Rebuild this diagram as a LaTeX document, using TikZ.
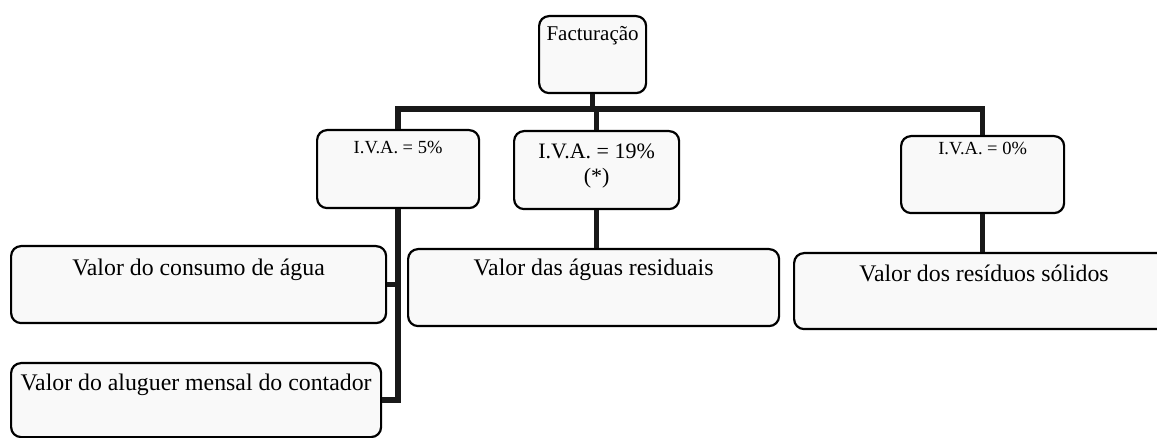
\documentclass[tikz,border=0pt]{standalone}
\usepackage{fontspec}
\setmainfont{Liberation Serif}
\usetikzlibrary{calc}
\begin{document}
\begin{tikzpicture}[x=1pt,y=-1pt,
  box/.style={draw=black, line width=2.2pt, rounded corners=10pt, fill=gray!5, inner sep=0pt, anchor=north west},
  txt/.style={inner sep=0pt, anchor=mid, text=black},
  conn/.style={line width=5.5pt, draw=black!90, line join=miter},
  big/.style={font=\fontsize{23.8}{27}\selectfont},
  mid/.style={font=\fontsize{21}{24}\selectfont},
  small/.style={font=\fontsize{18.5}{22}\selectfont}]
\useasboundingbox (0,0) rectangle (1157,438);
\clip (0,0) rectangle (1157,438);
\fill[white] (0,0) rectangle (1157,438);

% boxes
\node[box, minimum width=107pt, minimum height=77pt] (fac)   at (538,15)  {};
\node[box, minimum width=162pt, minimum height=78pt] (iva5)  at (316,129) {};
\node[box, minimum width=165pt, minimum height=78pt] (iva19) at (513,130) {};
\node[box, minimum width=163pt, minimum height=77pt] (iva0)  at (900,135) {};
\node[box, minimum width=375pt, minimum height=77pt] (agua)  at (10,245)  {};
\node[box, minimum width=371pt, minimum height=77pt] (resid) at (407,248) {};
\node[box, minimum width=380pt, minimum height=76pt] (solid) at (793,252) {};
\node[box, minimum width=370pt, minimum height=74pt] (alug)  at (10,362)  {};

% connectors
\coordinate (bus) at (397,109);
\draw[conn] (fac.south) -- (fac.south |- bus);
\draw[conn] (iva5.north) -- (iva5.north |- bus) -| (iva0.north);
\draw[conn] (iva19.north) -- (iva19.north |- bus);
\draw[conn] (iva19.south) -- (iva19.south |- resid.north);
\draw[conn] (iva0.south) -- (iva0.south |- solid.north);
\draw[conn] (iva5.south) -- (iva5.south |- alug.east) -- (alug.east);
\draw[conn] (agua.east) -- (agua.east -| iva5.south);

% texts
\node[txt, mid]   (fac-t)   at ($(fac.north)+(0,23)$)   {Facturação};
\node[txt, small] (iva5-t)  at ($(iva5.north)+(0,22)$)  {I.V.A. = 5\%};
\node[txt, mid, font=\fontsize{22}{24.5}\selectfont, anchor=north, align=center] (iva19-t) at ($(iva19.north)+(0,14)$) {I.V.A. = 19\%\\(*)};
\node[txt, small] (iva0-t)  at ($(iva0.north)+(0,17)$)  {I.V.A. = 0\%};
\node[txt, big]   (agua-t)  at ($(agua.north)+(0,28)$)  {Valor do consumo de água};
\node[txt, big]   (resid-t) at ($(resid.north)+(0,25)$) {Valor das águas residuais};
\node[txt, big]   (solid-t) at ($(solid.north)+(0,27)$) {Valor dos resíduos sólidos};
\node[txt, big]   (alug-t)  at ($(alug.north)+(0,26)$)  {Valor do aluguer mensal do contador};
\end{tikzpicture}
\end{document}
